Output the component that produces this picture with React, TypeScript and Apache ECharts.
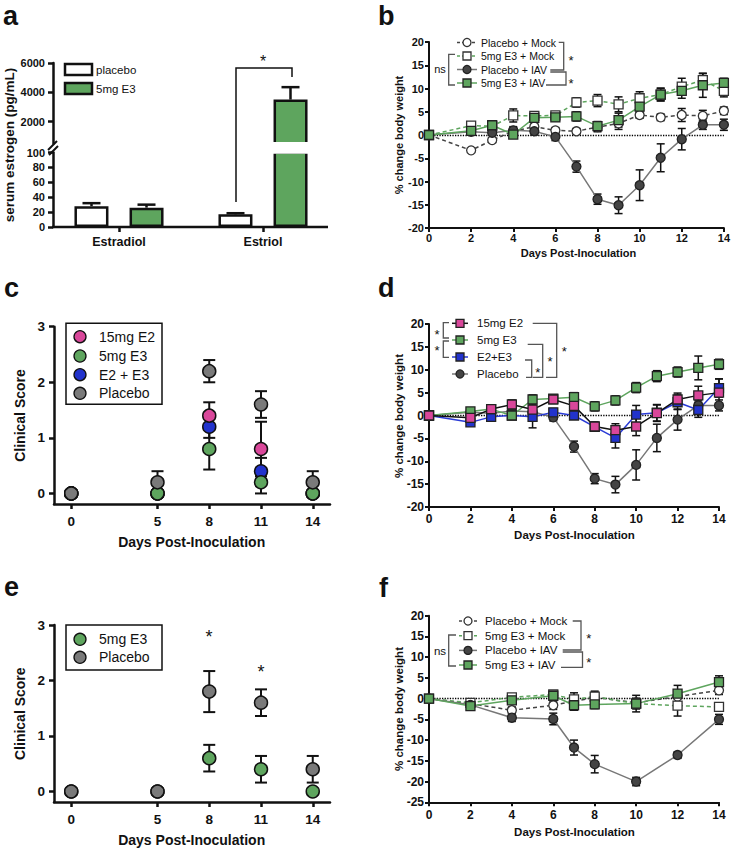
import React, { useEffect, useRef } from 'react';
import * as echarts from 'echarts';

const FONT = '"Liberation Sans", Arial, Helvetica, sans-serif';
const GREEN = '#5ea55e';
const PINK = '#d9479a';
const BLUE = '#2233cc';
const DARK = '#444444';
const GRAYL = '#777777';
const INK = '#111111';

// ---------- Panel a ----------
const aCategories = ['Estradiol', 'Estriol'];
const aPlacebo = [28, 17];
const aPlaceboErr = [4, 1.5];
const aE3 = [26, 3500];
const aE3Err = [4, 850];
const aUpperTicks = [2000, 4000, 6000];

// ---------- Panel b ----------
const bDays = [0, 2, 3, 4, 5, 6, 7, 8, 9, 10, 11, 12, 13, 14];
const bPlaceboMock = [0, -3.3, -1.1, 0.8, 1.8, 1.0, 0.8, 1.7, 2.5, 4.3, 3.8, 4.3, 4.1, 5.2];
const bPlaceboMockErr = [0, 0.3, 0.5, 0.8, 0.8, 0.6, 0.6, 1.0, 1.3, 0.7, 0.7, 1.4, 1.2, 0.8];
const bE3Mock = [0, 2.0, 1.9, 4.2, 4.1, 4.2, 7.0, 7.4, 6.6, 7.9, 8.7, 10.4, 11.8, 9.5];
const bE3MockErr = [0, 0.4, 0.5, 1.4, 0.9, 0.7, 1.0, 1.3, 1.6, 1.4, 1.4, 1.8, 1.4, 1.3];
const bPlaceboIAV = [0, 0.7, 0.5, 1.0, 0.8, -0.4, -6.8, -13.8, -15.1, -10.8, -4.9, -0.9, 2.2, 2.2];
const bPlaceboIAVErr = [0, 0.3, 0.6, 0.8, 0.8, 0.8, 1.2, 1.1, 1.8, 3.3, 3.0, 2.3, 1.0, 1.2];
const bE3IAV = [0, 0.9, 2.1, 0.1, 3.7, 3.8, 4.0, 1.9, 3.2, 6.1, 8.7, 9.5, 10.7, 11.2];
const bE3IAVErr = [0, 0.3, 0.5, 0.8, 1.0, 0.8, 1.0, 1.0, 1.5, 1.6, 1.3, 1.6, 2.6, 1.0];

// ---------- Panel c ----------
const cDays = [0, 5, 8, 11, 14];
const cE2 = [0, 0, 1.4, 0.8, 0];
const cE2Err = [0, 0, 0.24, 0.49, 0];
const cE3 = [0, 0, 0.8, 0.2, 0];
const cE3Err = [0, 0, 0.37, 0.2, 0];
const cE2E3 = [0, 0, 1.2, 0.4, 0];
const cE2E3Err = [0, 0, 0.2, 0.24, 0];
const cPlacebo = [0, 0.2, 2.2, 1.6, 0.2];
const cPlaceboErr = [0, 0.2, 0.2, 0.24, 0.2];
const scoreTicks = [0, 1, 2, 3];

// ---------- Panel d ----------
const dDays = [0, 2, 3, 4, 5, 6, 7, 8, 9, 10, 11, 12, 13, 14];
const dE2 = [0, -0.5, 1.4, 2.4, 1.3, 3.5, 2.1, -2.4, -3.2, -2.4, 0.5, 3.5, 4.4, 5.0];
const dE2Err = [0, 0.5, 0.8, 1.0, 1.3, 0.8, 0.9, 1.0, 1.4, 2.0, 1.8, 1.4, 2.0, 3.0];
const dE3 = [0, 0.9, 1.4, 0.0, 3.5, 3.7, 4.0, 2.0, 3.3, 6.1, 8.6, 9.5, 10.4, 11.2];
const dE3Err = [0, 0.4, 0.5, 0.8, 1.0, 0.7, 1.0, 1.0, 1.0, 1.1, 1.2, 1.1, 2.6, 1.1];
const dE2E3 = [0, -1.5, -0.3, 0.0, -0.3, 0.7, 0.0, -2.5, -4.9, 0.2, 0.6, 2.9, 1.2, 6.0];
const dE2E3Err = [0, 0.4, 0.9, 0.8, 2.4, 0.8, 0.8, 0.8, 2.2, 2.0, 1.8, 1.6, 1.6, 2.0];
const dPlacebo = [0, 0.7, 0.5, 1.0, 0.8, -0.4, -6.8, -13.8, -15.1, -10.8, -4.9, -0.9, 2.2, 2.2];
const dPlaceboErr = [0, 0.3, 0.6, 0.8, 0.8, 0.8, 1.2, 1.1, 1.8, 3.3, 3.0, 2.3, 1.0, 1.2];

// ---------- Panel e ----------
const eDays = [0, 5, 8, 11, 14];
const eE3 = [0, 0, 0.6, 0.4, 0];
const eE3Err = [0, 0, 0.24, 0.24, 0];
const ePlacebo = [0, 0, 1.8, 1.6, 0.4];
const ePlaceboErr = [0, 0, 0.37, 0.24, 0.24];

// ---------- Panel f ----------
const fDays = [0, 2, 4, 6, 7, 8, 10, 12, 14];
const fPlaceboMock = [0, -1.2, -2.8, -1.6, null, 0.3, -1.0, 0.5, 2.0];
const fPlaceboMockErr = [0, 0.4, 0.8, 1.0, 0, 1.5, 1.0, 1.3, 1.0];
const fE3Mock = [0, -1.0, 0.3, 1.0, -0.2, 0.5, -1.2, -1.7, -2.0];
const fE3MockErr = [0, 0.4, 0.6, 0.8, 1.6, 1.0, 1.3, 2.5, 1.0];
const fPlaceboIAV = [0, -1.5, -4.6, -4.9, -11.8, -15.8, -20.0, -13.6, -5.0];
const fPlaceboIAVErr = [0, 0.4, 0.9, 1.4, 1.8, 2.1, 1.0, 0.8, 1.2];
const fE3IAV = [0, -1.8, -0.4, 0.7, -1.6, -1.4, -1.2, 1.2, 4.0];
const fE3IAVErr = [0, 0.4, 0.6, 0.8, 1.2, 1.0, 2.0, 2.0, 1.5];

const scoreDayTicks = [0, 5, 8, 11, 14];

function errRender(capHalf: number, lw: number, offset = 0, twoSided = true) {
  return (_params: any, api: any) => {
    const x = api.value(0);
    const lo = api.value(1);
    const hi = api.value(2);
    const p1 = api.coord([x, lo]);
    const p2 = api.coord([x, hi]);
    const cx = p1[0] + offset;
    const st = { stroke: INK, lineWidth: lw };
    const children: any[] = [
      { type: 'line', shape: { x1: cx, y1: p1[1], x2: cx, y2: p2[1] }, style: st },
      { type: 'line', shape: { x1: cx - capHalf, y1: p2[1], x2: cx + capHalf, y2: p2[1] }, style: st },
    ];
    if (twoSided) {
      children.push({ type: 'line', shape: { x1: cx - capHalf, y1: p1[1], x2: cx + capHalf, y2: p1[1] }, style: st });
    }
    return { type: 'group', children };
  };
}

function errSeries(idx: number, days: number[], vals: (number | null)[], errs: number[], capHalf: number, lw: number) {
  const data: number[][] = [];
  days.forEach((d, i) => {
    const v = vals[i];
    if (v == null || !errs[i]) return;
    data.push([d, v - errs[i], v + errs[i]]);
  });
  return {
    type: 'custom',
    xAxisIndex: idx,
    yAxisIndex: idx,
    silent: true,
    z: 2,
    renderItem: errRender(capHalf, lw),
    encode: { x: 0, y: [1, 2] },
    data,
  };
}

function lineSeries(idx: number, name: string, days: number[], vals: (number | null)[], o: any) {
  return {
    type: 'line',
    name,
    xAxisIndex: idx,
    yAxisIndex: idx,
    silent: true,
    z: 3,
    connectNulls: true,
    showAllSymbol: true,
    symbol: o.symbol,
    symbolSize: o.size || 9,
    data: days.map((d, i) => [d, vals[i]]),
    itemStyle: { color: o.fill, borderColor: o.stroke, borderWidth: 1.3 },
    lineStyle: { color: o.line, width: 1.5, type: o.dash ? [4, 3] : 'solid' },
    emphasis: { disabled: true },
    markLine: o.zero
      ? {
          silent: true,
          symbol: ['none', 'none'],
          label: { show: false },
          lineStyle: { type: 'dotted', color: '#000', width: 1.3 },
          data: [{ yAxis: 0 }],
          z: 1,
        }
      : undefined,
  };
}

function scatterSeries(idx: number, name: string, days: number[], vals: number[], color: string) {
  return {
    type: 'scatter',
    name,
    xAxisIndex: idx,
    yAxisIndex: idx,
    silent: true,
    z: 4,
    symbol: 'circle',
    symbolSize: 13,
    data: days.map((d, i) => [d, vals[i]]),
    itemStyle: { color, borderColor: INK, borderWidth: 1.5, opacity: 1 },
    emphasis: { disabled: true },
  };
}

function txt(x: number, y: number, text: string, size: number, o: any = {}) {
  return {
    type: 'text',
    x,
    y,
    rotation: o.rotation || 0,
    silent: true,
    z: 10,
    style: {
      text,
      fontSize: size,
      fontWeight: o.bold ? 'bold' : 'normal',
      fontFamily: FONT,
      fill: o.color || INK,
      align: o.align || 'left',
      verticalAlign: o.va || 'middle',
      textAlign: o.align || 'left',
      textVerticalAlign: o.va || 'middle',
    },
  };
}

function poly(points: number[][], color = '#555', lw = 1.3) {
  return { type: 'polyline', silent: true, z: 10, shape: { points }, style: { stroke: color, lineWidth: lw, fill: null } };
}

function seg(x1: number, y1: number, x2: number, y2: number, color = INK, lw = 2, dash?: number[]) {
  return { type: 'line', silent: true, z: 10, shape: { x1, y1, x2, y2 }, style: { stroke: color, lineWidth: lw, lineDash: dash } };
}

function marker(kind: string, cx: number, cy: number, fill: string, stroke: string, s = 8) {
  if (kind === 'circle') {
    return { type: 'circle', silent: true, z: 11, shape: { cx, cy, r: s / 2 }, style: { fill, stroke, lineWidth: 1.3 } };
  }
  return { type: 'rect', silent: true, z: 11, shape: { x: cx - s / 2, y: cy - s / 2, width: s, height: s }, style: { fill, stroke, lineWidth: 1.3 } };
}

function lineLegend(rows: number[], x1: number, x2: number, tx: number, size: number, items: any[]) {
  const out: any[] = [];
  items.forEach((it, i) => {
    const y = rows[i];
    out.push(seg(x1, y, x2, y, it.line, 1.5, it.dash ? [3, 2] : undefined));
    out.push(marker(it.symbol, (x1 + x2) / 2, y, it.fill, it.stroke, 8));
    out.push(txt(tx, y, it.name, size));
  });
  return out;
}

const plainNum = (v: number) => String(v);

function valueAxisBase(idx: number, lw: number, fs: number, margin: number) {
  return {
    gridIndex: idx,
    type: 'value',
    axisLine: { show: true, onZero: false, lineStyle: { color: INK, width: lw } },
    axisTick: { show: true, length: 4, lineStyle: { color: INK, width: lw } },
    axisLabel: { fontWeight: 'bold', fontSize: fs, color: INK, margin, fontFamily: FONT, formatter: plainNum },
    splitLine: { show: false },
  };
}

export default function App() {
  const ref = useRef<HTMLDivElement>(null);

  useEffect(() => {
    document.body.style.margin = '0';
    const chart = echarts.init(ref.current as HTMLDivElement, null, { renderer: 'svg' });

    const grids = [
      { left: 47, top: 63, width: 288, height: 80.5 }, // a upper
      { left: 47, top: 152.5, width: 288, height: 74.5 }, // a lower
      { left: 429, top: 42, width: 299, height: 186 }, // b
      { left: 54, top: 326.7, width: 276, height: 177.3 }, // c
      { left: 429, top: 324, width: 290, height: 183 }, // d
      { left: 54, top: 625, width: 276, height: 177 }, // e
      { left: 429, top: 615.7, width: 290, height: 186.6 }, // f
    ];

    const xAxes: any[] = [
      { gridIndex: 0, type: 'category', data: aCategories, show: false },
      {
        gridIndex: 1,
        type: 'category',
        data: aCategories,
        axisLine: { show: false },
        axisTick: { show: true, alignWithLabel: true, length: 5, lineStyle: { color: INK, width: 2.5 } },
        axisLabel: { fontWeight: 'bold', fontSize: 12.5, color: INK, margin: 8, fontFamily: FONT },
      },
      { ...valueAxisBase(2, 2, 11, 4), min: 0, max: 14, interval: 2 },
      {
        ...valueAxisBase(3, 2.5, 13.5, 10),
        min: -1,
        max: 15,
        axisTick: { show: true, length: 5, lineStyle: { color: INK, width: 2.5 }, customValues: scoreDayTicks },
        axisLabel: { fontWeight: 'bold', fontSize: 13.5, color: INK, margin: 10, fontFamily: FONT, customValues: scoreDayTicks },
      },
      { ...valueAxisBase(4, 2, 12, 6), min: 0, max: 14, interval: 2 },
      {
        ...valueAxisBase(5, 2.5, 13.5, 10),
        min: -1,
        max: 15,
        axisTick: { show: true, length: 5, lineStyle: { color: INK, width: 2.5 }, customValues: scoreDayTicks },
        axisLabel: { fontWeight: 'bold', fontSize: 13.5, color: INK, margin: 10, fontFamily: FONT, customValues: scoreDayTicks },
      },
      { ...valueAxisBase(6, 2, 12, 7), min: 0, max: 14, interval: 2 },
    ];

    const yAxes: any[] = [
      {
        ...valueAxisBase(0, 2.5, 11, 8),
        offset: -6,
        min: 500,
        max: 6000,
        axisTick: { show: true, length: 5, lineStyle: { color: INK, width: 2.5 }, customValues: aUpperTicks },
        axisLabel: { fontWeight: 'bold', fontSize: 11, color: INK, margin: 8, fontFamily: FONT, customValues: aUpperTicks, formatter: plainNum },
      },
      {
        ...valueAxisBase(1, 2.5, 11, 8),
        offset: -6,
        min: 0,
        max: 100,
        interval: 20,
        axisTick: { show: true, length: 5, lineStyle: { color: INK, width: 2.5 } },
      },
      { ...valueAxisBase(2, 2, 11, 5), min: -20, max: 20, interval: 5 },
      {
        ...valueAxisBase(3, 2.5, 13.5, 9),
        min: -0.19,
        max: 3,
        axisTick: { show: true, length: 5, lineStyle: { color: INK, width: 2.5 }, customValues: scoreTicks },
        axisLabel: { fontWeight: 'bold', fontSize: 13.5, color: INK, margin: 9, fontFamily: FONT, customValues: scoreTicks },
      },
      { ...valueAxisBase(4, 2, 12, 5), min: -20, max: 20, interval: 5 },
      {
        ...valueAxisBase(5, 2.5, 13.5, 9),
        min: -0.19,
        max: 3,
        axisTick: { show: true, length: 5, lineStyle: { color: INK, width: 2.5 }, customValues: scoreTicks },
        axisLabel: { fontWeight: 'bold', fontSize: 13.5, color: INK, margin: 9, fontFamily: FONT, customValues: scoreTicks },
      },
      { ...valueAxisBase(6, 2, 12, 5), min: -25, max: 20, interval: 5 },
    ];

    const barCommon = { type: 'bar', barWidth: 34, barGap: '62%', clip: true, silent: true, z: 2 };
    const aSeries: any[] = [];
    [0, 1].forEach((gi) => {
      aSeries.push({
        ...barCommon,
        name: 'placebo',
        xAxisIndex: gi,
        yAxisIndex: gi,
        data: aPlacebo,
        itemStyle: { color: '#ffffff', borderColor: INK, borderWidth: 2.5 },
      });
      aSeries.push({
        ...barCommon,
        name: '5mg E3',
        xAxisIndex: gi,
        yAxisIndex: gi,
        data: aE3,
        itemStyle: { color: GREEN, borderColor: INK, borderWidth: 2.5 },
      });
    });
    const aErr = (vals: number[], errs: number[], keep: (v: number) => boolean) =>
      vals.map((v, i) => [i, v, v + errs[i]]).filter((d) => keep(d[1]));
    const errA = (gi: number, offset: number, data: number[][]) => ({
      type: 'custom',
      xAxisIndex: gi,
      yAxisIndex: gi,
      silent: true,
      z: 3,
      renderItem: errRender(9, 2.5, offset, false),
      encode: { x: 0, y: [1, 2] },
      data,
    });
    aSeries.push(errA(1, -27.5, aErr(aPlacebo, aPlaceboErr, (v) => v < 100)));
    aSeries.push(errA(1, 27.5, aErr(aE3, aE3Err, (v) => v < 100)));
    aSeries.push(errA(0, 27.5, aErr(aE3, aE3Err, (v) => v > 500)));

    const st = {
      pm: { symbol: 'circle', fill: '#ffffff', stroke: '#333', line: DARK, dash: true },
      em: { symbol: 'rect', fill: '#ffffff', stroke: '#333', line: GREEN, dash: true },
      pi: { symbol: 'circle', fill: DARK, stroke: '#222', line: GRAYL, dash: false },
      ei: { symbol: 'rect', fill: GREEN, stroke: '#222', line: GREEN, dash: false },
      e2: { symbol: 'rect', fill: PINK, stroke: '#222', line: INK, dash: false },
      e3: { symbol: 'rect', fill: GREEN, stroke: '#222', line: GREEN, dash: false },
      e23: { symbol: 'rect', fill: BLUE, stroke: '#222', line: '#2a3bd6', dash: false },
    };

    const series: any[] = [
      ...aSeries,
      // b
      errSeries(2, bDays, bPlaceboMock, bPlaceboMockErr, 4, 1.5),
      errSeries(2, bDays, bE3Mock, bE3MockErr, 4, 1.5),
      errSeries(2, bDays, bPlaceboIAV, bPlaceboIAVErr, 4, 1.5),
      errSeries(2, bDays, bE3IAV, bE3IAVErr, 4, 1.5),
      lineSeries(2, 'Placebo + Mock', bDays, bPlaceboMock, { ...st.pm, zero: true }),
      lineSeries(2, '5mg E3 + Mock', bDays, bE3Mock, st.em),
      lineSeries(2, 'Placebo + IAV', bDays, bPlaceboIAV, st.pi),
      lineSeries(2, '5mg E3 + IAV', bDays, bE3IAV, st.ei),
      // c
      errSeries(3, cDays, cE2E3, cE2E3Err, 6, 2),
      errSeries(3, cDays, cE2, cE2Err, 6, 2),
      errSeries(3, cDays, cE3, cE3Err, 6, 2),
      errSeries(3, cDays, cPlacebo, cPlaceboErr, 6, 2),
      scatterSeries(3, 'E2 + E3', cDays, cE2E3, BLUE),
      scatterSeries(3, '15mg E2', cDays, cE2, PINK),
      scatterSeries(3, '5mg E3', cDays, cE3, GREEN),
      scatterSeries(3, 'Placebo', cDays, cPlacebo, '#7a7a7a'),
      // d
      errSeries(4, dDays, dPlacebo, dPlaceboErr, 4, 1.5),
      errSeries(4, dDays, dE2E3, dE2E3Err, 4, 1.5),
      errSeries(4, dDays, dE3, dE3Err, 4, 1.5),
      errSeries(4, dDays, dE2, dE2Err, 4, 1.5),
      lineSeries(4, 'Placebo', dDays, dPlacebo, { ...st.pi, zero: true }),
      lineSeries(4, 'E2+E3', dDays, dE2E3, st.e23),
      lineSeries(4, '5mg E3', dDays, dE3, st.e3),
      lineSeries(4, '15mg E2', dDays, dE2, st.e2),
      // e
      errSeries(5, eDays, eE3, eE3Err, 6, 2),
      errSeries(5, eDays, ePlacebo, ePlaceboErr, 6, 2),
      scatterSeries(5, '5mg E3', eDays, eE3, GREEN),
      scatterSeries(5, 'Placebo', eDays, ePlacebo, '#7a7a7a'),
      // f
      errSeries(6, fDays, fPlaceboMock, fPlaceboMockErr, 4, 1.5),
      errSeries(6, fDays, fE3Mock, fE3MockErr, 4, 1.5),
      errSeries(6, fDays, fPlaceboIAV, fPlaceboIAVErr, 4, 1.5),
      errSeries(6, fDays, fE3IAV, fE3IAVErr, 4, 1.5),
      lineSeries(6, 'Placebo + Mock', fDays, fPlaceboMock, { ...st.pm, zero: true }),
      lineSeries(6, '5mg E3 + Mock', fDays, fE3Mock, st.em),
      lineSeries(6, 'Placebo + IAV', fDays, fPlaceboIAV, st.pi),
      lineSeries(6, '5mg E3 + IAV', fDays, fE3IAV, st.ei),
    ];

    const R = Math.PI / 2;
    const graphics: any[] = [
      // panel letters
      txt(3, 16, 'a', 27, { bold: true }),
      txt(378, 16, 'b', 27, { bold: true }),
      txt(4, 288, 'c', 27, { bold: true }),
      txt(378, 288, 'd', 27, { bold: true }),
      txt(4, 587, 'e', 27, { bold: true }),
      txt(379, 588, 'f', 27, { bold: true }),

      // panel a extras
      seg(52, 227, 328, 227, INK, 2.5),
      // white gap of the broken axis bar
      { type: 'rect', silent: true, z: 9, shape: { x: 268, y: 142, width: 46, height: 11.8 }, style: { fill: '#ffffff' } },
      seg(48, 150, 57, 141, INK, 2),
      seg(49, 155, 58, 146, INK, 2),
      txt(9, 145, 'serum estrogen (pg/mL)', 13.5, { bold: true, align: 'center', rotation: R }),
      { type: 'rect', silent: true, z: 10, shape: { x: 65, y: 64, width: 27, height: 11 }, style: { fill: '#fff', stroke: INK, lineWidth: 2.5 } },
      { type: 'rect', silent: true, z: 10, shape: { x: 65, y: 83, width: 27, height: 11 }, style: { fill: GREEN, stroke: INK, lineWidth: 2.5 } },
      txt(96, 69.5, 'placebo', 11.5),
      txt(96, 88.7, '5mg E3', 11.5),
      poly([[236, 202], [236, 68], [292, 68], [292, 77]], INK, 1.5),
      txt(263, 61, '*', 16, { align: 'center' }),

      // panel b extras
      txt(399, 135, '% change body weight', 11, { bold: true, align: 'center', rotation: R }),
      txt(578.5, 253, 'Days Post-Inoculation', 11, { bold: true, align: 'center' }),
      ...lineLegend([42.5, 56, 69.5, 83], 457, 477, 481, 10.5, [
        { name: 'Placebo + Mock', ...st.pm },
        { name: '5mg E3 + Mock', ...st.em },
        { name: 'Placebo + IAV', ...st.pi },
        { name: '5mg E3 + IAV', ...st.ei },
      ]),
      poly([[455, 54.3], [448.7, 54.3], [448.7, 85], [455, 85]]),
      txt(440, 68.5, 'ns', 11, { align: 'center' }),
      poly([[558.7, 42.3], [563.7, 42.3], [563.7, 70], [550.3, 70]]),
      poly([[550.3, 72], [566, 72], [566, 85], [546, 85]]),
      txt(571, 60, '*', 13, { align: 'center' }),
      txt(571, 83, '*', 13, { align: 'center' }),

      // panel c extras
      txt(20, 415.5, 'Clinical Score', 14, { bold: true, align: 'center', rotation: R }),
      txt(191.7, 541.7, 'Days Post-Inoculation', 14, { bold: true, align: 'center' }),
      { type: 'rect', silent: true, z: 10, shape: { x: 66, y: 323.3, width: 96, height: 81 }, style: { fill: '#fff', stroke: INK, lineWidth: 1.5 } },
      marker('circle', 80, 336.7, PINK, INK, 12),
      marker('circle', 80, 356, GREEN, INK, 12),
      marker('circle', 80, 374.7, BLUE, INK, 12),
      marker('circle', 80, 393.3, '#7a7a7a', INK, 12),
      txt(99, 336.7, '15mg E2', 14),
      txt(99, 356, '5mg E3', 14),
      txt(99, 374.7, 'E2 + E3', 14),
      txt(99, 393.3, 'Placebo', 14),

      // panel d extras
      txt(399, 416, '% change body weight', 11.5, { bold: true, align: 'center', rotation: R }),
      txt(574.5, 535, 'Days Post-Inoculation', 11.5, { bold: true, align: 'center' }),
      ...lineLegend([323.3, 340, 357, 374], 452, 468, 477, 11.5, [
        { name: '15mg E2', ...st.e2 },
        { name: '5mg E3', ...st.e3 },
        { name: 'E2+E3', ...st.e23 },
        { name: 'Placebo', ...st.pi },
      ]),
      poly([[449, 322.7], [443.3, 322.7], [443.3, 338], [449, 338]]),
      poly([[449, 341], [443.3, 341], [443.3, 357.3], [449, 357.3]]),
      txt(437, 334.5, '*', 13, { align: 'center' }),
      txt(437, 350.5, '*', 13, { align: 'center' }),
      poly([[525, 360], [531.7, 360], [531.7, 377.3], [526, 377.3]]),
      poly([[527.7, 344.3], [542.7, 344.3], [542.7, 377.3], [532.7, 377.3]]),
      poly([[532.7, 323.3], [556.7, 323.3], [556.7, 377.3], [546, 377.3]]),
      txt(537.7, 372, '*', 13, { align: 'center' }),
      txt(550, 361, '*', 13, { align: 'center' }),
      txt(564.3, 351, '*', 13, { align: 'center' }),

      // panel e extras
      txt(20, 713.7, 'Clinical Score', 14, { bold: true, align: 'center', rotation: R }),
      txt(191.7, 840, 'Days Post-Inoculation', 14, { bold: true, align: 'center' }),
      { type: 'rect', silent: true, z: 10, shape: { x: 66, y: 625, width: 96, height: 45 }, style: { fill: '#fff', stroke: INK, lineWidth: 1.5 } },
      marker('circle', 80, 639.3, GREEN, INK, 12),
      marker('circle', 80, 657.3, '#7a7a7a', INK, 12),
      txt(99, 639.3, '5mg E3', 14),
      txt(99, 657.3, 'Placebo', 14),
      txt(209, 637, '*', 18, { align: 'center' }),
      txt(261, 672, '*', 18, { align: 'center' }),

      // panel f extras
      txt(399, 709, '% change body weight', 11.5, { bold: true, align: 'center', rotation: R }),
      txt(574.5, 831.7, 'Days Post-Inoculation', 11.5, { bold: true, align: 'center' }),
      ...lineLegend([621, 635.7, 650.4, 665], 459, 477, 485, 11.5, [
        { name: 'Placebo + Mock', ...st.pm },
        { name: '5mg E3 + Mock', ...st.em },
        { name: 'Placebo + IAV', ...st.pi },
        { name: '5mg E3 + IAV', ...st.ei },
      ]),
      poly([[456, 635], [448.7, 635], [448.7, 666], [456, 666]]),
      txt(440, 651, 'ns', 11.5, { align: 'center' }),
      poly([[572.7, 621], [581, 621], [581, 650], [562.7, 650]]),
      poly([[562.7, 652], [582.5, 652], [582.5, 667.3], [561, 667.3]]),
      txt(588.7, 638.5, '*', 13, { align: 'center' }),
      txt(588.7, 662, '*', 13, { align: 'center' }),
    ];

    chart.setOption({
      animation: false,
      backgroundColor: '#ffffff',
      textStyle: { fontFamily: FONT },
      grid: grids,
      xAxis: xAxes,
      yAxis: yAxes,
      series,
      graphic: { elements: graphics },
    });

    return () => {
      chart.dispose();
    };
  }, []);

  return <div ref={ref} style={{ width: 733, height: 848 }} />;
}
